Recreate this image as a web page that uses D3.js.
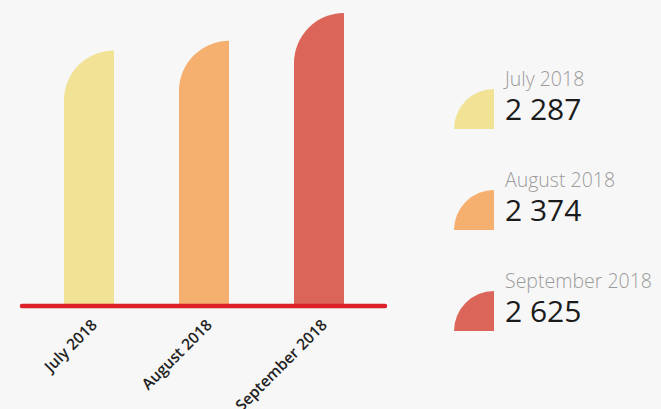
<!DOCTYPE html>
<html lang="en">
<head>
	<meta charset="UTF-8">
	<title>Monthly totals</title>
	<script src="https://cdn.jsdelivr.net/npm/d3@7"></script>
	<style>
		body { margin: 0; background: #f7f7f7; }
		svg { display: block; font-family: "Open Sans", sans-serif; }
	</style>
</head>
<body>
	<div id="container"></div>
	<script>
		var months = ["July 2018", "August 2018", "September 2018"];
		var values = [2287, 2374, 2625];
		var colors = ["#f1e295", "#f5af6f", "#dc6559"];
		var fmt = d3.format(",d");

		var width = 661, height = 409;
		var svg = d3.select("#container").append("svg")
			.attr("width", width)
			.attr("height", height);

		svg.append("rect")
			.attr("width", width).attr("height", height)
			.attr("fill", "#f7f7f7");

		// title sits above the visible area, only descenders show
		svg.append("text")
			.attr("x", 642).attr("y", -4)
			.attr("text-anchor", "end")
			.attr("font-size", 18)
			.attr("font-weight", 300)
			.attr("fill", "#555")
			.text("(happy gallery)");

		var x = d3.scaleBand()
			.domain(months)
			.range([22, 386])
			.paddingInner(0.565)
			.paddingOuter(0.365);

		var y = d3.scaleLinear()
			.domain([0, d3.max(values)])
			.range([304, 13]);

		// bar with a rounded top-left corner (radius = bar width)
		function barPath(x0, w, top, bottom) {
			var r = Math.min(w, bottom - top);
			return "M" + x0 + "," + bottom +
				"L" + x0 + "," + (top + r) +
				"A" + r + "," + r + " 0 0 1 " + (x0 + w) + "," + top +
				"L" + (x0 + w) + "," + bottom + "Z";
		}

		svg.selectAll(".bar")
			.data(months)
			.enter().append("path")
				.attr("class", "bar")
				.attr("d", function(d, i) { return barPath(x(d), x.bandwidth(), y(values[i]), y(0)); })
				.attr("fill", function(d, i) { return colors[i]; });

		svg.append("line")
			.attr("x1", x.range()[0]).attr("x2", x.range()[1] - 1)
			.attr("y1", y(0) + 2).attr("y2", y(0) + 2)
			.attr("stroke", "#dc2228")
			.attr("stroke-width", 4.5)
			.attr("stroke-linecap", "round");

		svg.selectAll(".xlabel")
			.data(months)
			.enter().append("text")
				.attr("class", "xlabel")
				.attr("transform", function(d) {
					return "translate(" + (x(d) + x.bandwidth() / 2 + 9) + "," + 326 + ") rotate(-45)";
				})
				.attr("text-anchor", "end")
				.attr("font-size", 15.5)
				.attr("font-weight", 600)
				.attr("fill", "#222")
				.text(function(d) { return d; });

		// legend
		var legend = svg.selectAll(".legend")
			.data(months)
			.enter().append("g")
				.attr("class", "legend")
				.attr("transform", function(d, i) { return "translate(0," + (i * 101) + ")"; });

		var lr = 40, lx = 494, ly = 129;
		legend.append("path")
			.attr("d", "M" + (lx - lr) + "," + ly + "A" + lr + "," + lr + " 0 0 1 " + lx + "," + (ly - lr) + "L" + lx + "," + ly + "Z")
			.attr("fill", function(d, i) { return colors[i]; });

		legend.append("text")
			.attr("x", 505).attr("y", 86)
			.attr("font-size", 19.5)
			.attr("font-weight", 300)
			.attr("fill", "#9b9b9b")
			.text(function(d) { return d; });

		legend.append("text")
			.attr("x", 505).attr("y", 120)
			.attr("font-size", 30)
			.attr("fill", "#1b1b1b")
			.text(function(d, i) { return fmt(values[i]).replace(/,/g, " "); });
	</script>
</body>
</html>
